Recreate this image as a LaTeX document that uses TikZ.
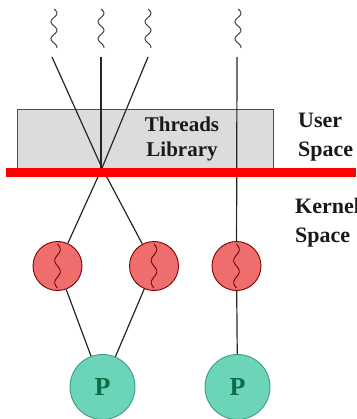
\documentclass[tikz,border=0pt]{standalone}
\usepackage{fontspec}
\setmainfont{Liberation Serif}
\begin{document}
\begin{tikzpicture}[x=1pt,y=-1pt,
  wire/.style={draw=black!85, line width=1.2pt},
  squig/.style={draw=black!75, line width=1pt},
  kthread/.style={circle, draw=red!50!black, line width=0.9pt, fill=kred, minimum size=49pt, inner sep=0pt},
  proc/.style={circle, draw=pedge, line width=0.9pt, fill=pfill, minimum size=65pt, inner sep=0pt,
    font=\fontsize{26}{26}\selectfont\bfseries, text=pdark},
  lbl/.style={font=\fontsize{22}{29}\selectfont\bfseries, text=black!90, inner sep=0pt, align=left}
]
\definecolor{kred}{HTML}{EE6E6E}
\definecolor{pfill}{HTML}{6CD4B8}
\definecolor{pedge}{HTML}{3E9C84}
\definecolor{pdark}{HTML}{0F6B4A}
\definecolor{libgray}{HTML}{DCDCDC}
\useasboundingbox (0,0) rectangle (356,419);

% threads library box
\node[draw=black!70, line width=1pt, fill=libgray, minimum width=256pt, minimum height=64pt,
      inner sep=0pt, anchor=north west] (lib) at (17,109) {};
\node[lbl, align=center, font=\fontsize{21}{25}\selectfont\bfseries, anchor=base] (libtxt) at (182,157) {Threads\\Library};

% user thread squiggles
\foreach \xx in {54,101,148,238}{
  \draw[squig] plot[domain=0:39, samples=60, smooth] ({\xx+3*sin(\x*360/17)}, {9+\x});
}
\coordinate (t1) at (52,57);
\coordinate (t2) at (101,57);
\coordinate (t3) at (148,57);
\coordinate (t4) at (237,57);
\coordinate (mux) at (102,168);
\coordinate (t2end) at (101,170);

% kernel threads and processors
\node[kthread] (k1) at (57.5,266) {};
\node[kthread] (k2) at (154,266) {};
\node[kthread] (k3) at (236.5,266) {};
\node[proc] (p1) at (102.5,387) {P};
\node[proc] (p2) at (237.5,387) {P};

% squiggles inside kernel threads
\foreach \k in {k1,k2,k3}{
  \begin{scope}[shift={(\k)}]
    \draw[red!45!black, line width=0.9pt] plot[domain=-22:22, samples=50, smooth]
      ({2.8*sin((\x+22)*360/22)}, {\x});
  \end{scope}
}

% connectors
\draw[wire] (t1) -- (mux);
\draw[wire] (t3) -- (mux);
\draw[wire] (t2) -- (t2end);
\draw[wire] (mux) -- (k1);
\draw[wire] (mux) -- (k2);
\draw[wire] (t4) -- (k3);
\draw[wire] (k1) -- (p1);
\draw[wire] (k2) -- (p1);
\draw[wire] (k3) -- (p2);

% user / kernel boundary
\fill[red] (6,168) rectangle (356,177);

% side labels
\node[lbl, anchor=base west] (user) at (298,157) {User\\Space};
\node[lbl, anchor=base west] (kern) at (295,242) {Kernel\\Space};
\end{tikzpicture}
\end{document}
